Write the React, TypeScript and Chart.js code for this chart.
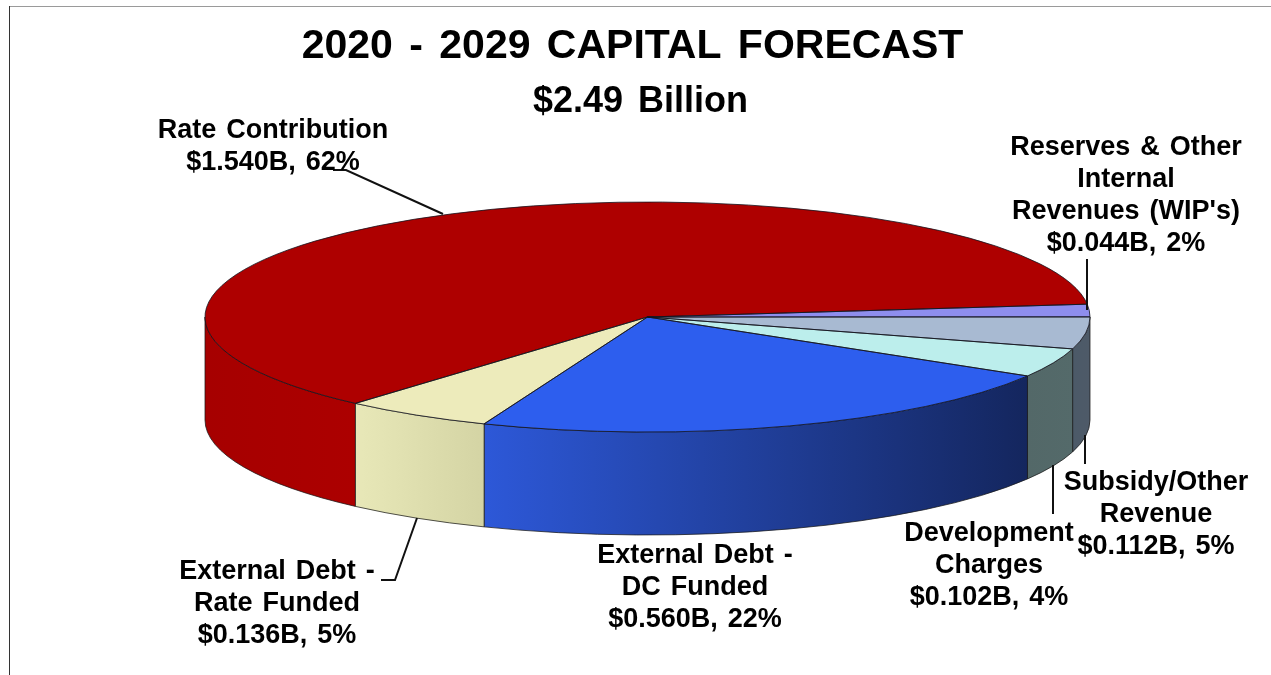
import React, { useEffect, useRef } from "react";
import { Chart, registerables } from "chart.js";

Chart.register(...registerables);

const TITLE = "2020 - 2029 CAPITAL FORECAST";
const SUBTITLE = "$2.49 Billion";
const sliceNames = ["Rate Contribution", "Reserves & Other Internal Revenues (WIP's)", "Subsidy/Other Revenue", "Development Charges", "External Debt - DC Funded", "External Debt - Rate Funded"];
const amounts = [1.54, 0.044, 0.112, 0.102, 0.56, 0.136];
const percents = [62, 2, 5, 4, 22, 5];
const labelLines = [
  ["Rate Contribution"],
  ["Reserves & Other", "Internal", "Revenues (WIP's)"],
  ["Subsidy/Other", "Revenue"],
  ["Development", "Charges"],
  ["External Debt -", "DC Funded"],
  ["External Debt -", "Rate Funded"],
];

// styles
const topColors = ["#AE0000", "#8E8EEE", "#A8BAD2", "#BCEEEC", "#2D5EEE", "#EDEBBB"];
const wallFrom = ["#A60000", "#6A6AB0", "#4C5A68", "#536868", "#2D58D8", "#E8E8B8"];
const wallTo = ["#AC0000", "#6A6AB0", "#4E5A68", "#546A6A", "#14265E", "#D4D4A4"];
// layout of the tilted pie
const CX = 647.5, CY = 317, RX = 442.5, RY = 115, DEPTH = 103;
const ROTATION = 221.3;
const labelCenters = [[273, 131], [1126, 148], [1156, 483], [989, 534], [695, 556], [277, 572]];
const LINE_H = 32;
const leaders = [
  [[333, 170], [346, 170], [443, 214]],
  [[1087, 259], [1087, 310]],
  [[1085, 435], [1085, 464]],
  [[1053, 465], [1053, 514]],
  [[417, 518], [395, 580], [381, 580]],
];

const FONT = '"Liberation Sans", Arial, sans-serif';

const pie3d = {
  id: "pie3d",
  beforeDraw(chart: any) {
    const { ctx, width, height } = chart;
    ctx.save();
    ctx.fillStyle = "#fff";
    ctx.fillRect(0, 0, width, height);
    ctx.fillStyle = "#9a9a9a";
    ctx.fillRect(9, 6, width - 9, 1);
    ctx.fillStyle = "#333";
    ctx.fillRect(9, 6, 1, height - 6);
    ctx.restore();
    ctx.wordSpacing = "5px";
  },
  afterLayout(chart: any) {
    for (const b of chart.boxes) {
      if (b.options && b.options.text === TITLE) { b.left -= 3; b.right -= 3; }
      if (b.options && b.options.text === SUBTITLE) { b.left += 5; b.right += 5; }
    }
  },
  beforeDatasetsDraw(chart: any) {
    const ctx = chart.ctx;
    ctx.wordSpacing = "0px";
    const arcs = chart.getDatasetMeta(0).data;
    // walls: the part of each slice's rim that faces the viewer
    ctx.save();
    ctx.lineWidth = 1;
    ctx.strokeStyle = "rgba(25,25,25,0.75)";
    arcs.forEach((arc: any, i: number) => {
      const { startAngle, endAngle } = arc.getProps(["startAngle", "endAngle"], true);
      for (let k = -1; k < 3; k++) {
        const a = Math.max(startAngle, 2 * Math.PI * k);
        const b = Math.min(endAngle, 2 * Math.PI * k + Math.PI);
        if (b <= a) continue;
        const x1 = CX + RX * Math.cos(a), x2 = CX + RX * Math.cos(b);
        const g = ctx.createLinearGradient(Math.min(x1, x2), 0, Math.max(x1, x2), 0);
        g.addColorStop(0, wallFrom[i]);
        g.addColorStop(1, wallTo[i]);
        ctx.beginPath();
        ctx.ellipse(CX, CY, RX, RY, 0, a, b, false);
        ctx.lineTo(x2, CY + RY * Math.sin(b) + DEPTH);
        ctx.ellipse(CX, CY + DEPTH, RX, RY, 0, b, a, true);
        ctx.closePath();
        ctx.fillStyle = g;
        ctx.fill();
        ctx.stroke();
      }
    });
    ctx.restore();
    // squash the library's round pie into the tilted ellipse
    const first = arcs[0];
    const R = first.outerRadius;
    ctx.save();
    ctx.translate(CX, CY);
    ctx.scale(RX / R, RY / R);
    ctx.translate(-first.x, -first.y);
  },
  afterDatasetsDraw(chart: any) {
    const ctx = chart.ctx;
    ctx.restore();
    const arcs = chart.getDatasetMeta(0).data;
    ctx.save();
    ctx.lineWidth = 1;
    ctx.strokeStyle = "rgba(20,20,30,0.8)";
    arcs.forEach((arc: any) => {
      ctx.beginPath();
      ctx.moveTo(CX, CY);
      ctx.ellipse(CX, CY, RX, RY, 0, arc.startAngle, arc.endAngle, false);
      ctx.closePath();
      ctx.stroke();
    });
    ctx.strokeStyle = "#111";
    ctx.lineWidth = 2;
    leaders.forEach((pts) => {
      ctx.beginPath();
      pts.forEach((p, j) => (j ? ctx.lineTo(p[0], p[1]) : ctx.moveTo(p[0], p[1])));
      ctx.stroke();
    });
    ctx.font = `bold 27px ${FONT}`;
    ctx.wordSpacing = "2.5px";
    ctx.fillStyle = "#000";
    ctx.textAlign = "center";
    ctx.textBaseline = "middle";
    labelLines.forEach((lines, i) => {
      const all = [...lines, `$${amounts[i].toFixed(3)}B, ${percents[i]}%`];
      all.forEach((t, j) => ctx.fillText(t, labelCenters[i][0], labelCenters[i][1] + j * LINE_H));
    });
    ctx.restore();
  },
};

export default function App() {
  const ref = useRef<HTMLCanvasElement>(null);
  useEffect(() => {
    const chart = new Chart(ref.current as HTMLCanvasElement, {
      type: "pie",
      data: {
        labels: sliceNames,
        datasets: [{ data: amounts, backgroundColor: topColors, borderWidth: 0, clip: false } as any],
      },
      options: {
        responsive: false,
        animation: false,
        events: [],
        rotation: ROTATION,
        layout: { padding: 0 },
        plugins: {
          legend: { display: false },
          tooltip: { enabled: false },
          title: {
            display: true,
            text: TITLE,
            color: "#000",
            font: { family: FONT, size: 41, weight: "bold", lineHeight: 1.2 },
            padding: { top: 22, bottom: 2 },
          },
          subtitle: {
            display: true,
            text: SUBTITLE,
            color: "#000",
            font: { family: FONT, size: 36, weight: "bold", lineHeight: 1.2 },
            padding: { top: 7, bottom: 10 },
          },
        },
      } as any,
      plugins: [pie3d],
    });
    return () => chart.destroy();
  }, []);
  return (
    <div style={{ position: "fixed", left: 0, top: 0, width: 1271, height: 675 }}>
      <canvas ref={ref} width={1271} height={675} style={{ display: "block" }} />
    </div>
  );
}
